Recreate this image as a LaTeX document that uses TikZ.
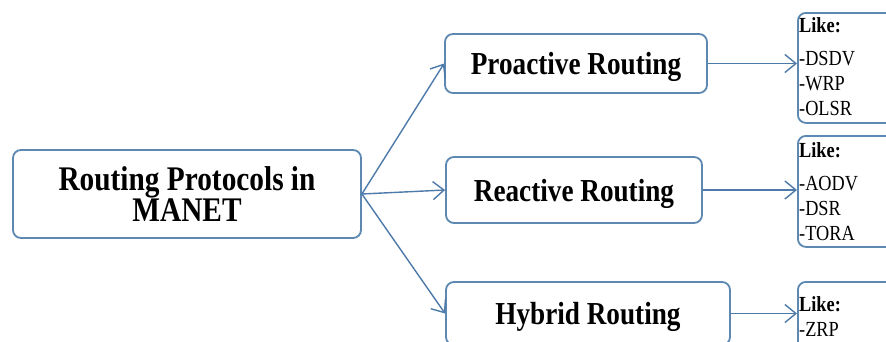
\documentclass[tikz,border=0pt]{standalone}
\usepackage{fontspec}
\setmainfont{Liberation Serif}[FakeStretch=0.85]
\usetikzlibrary{arrows.meta,calc}
\definecolor{boxline}{RGB}{92,136,178}
\definecolor{arrline}{RGB}{78,122,170}
\begin{document}
\begin{tikzpicture}[x=1pt,y=-1pt,
  box/.style={draw=boxline, line width=1.8pt, rounded corners=8pt, fill=white, inner sep=0pt, text depth=0pt},
  conn/.style={draw=arrline, line width=1.4pt, -{Straight Barb[length=11pt,width=18pt]}},
  subfont/.style={font=\fontsize{32}{34}\selectfont\bfseries},
  likefont/.style={font=\fontsize{21.5}{25}\selectfont, align=left, inner sep=0pt, anchor=north west}]
\useasboundingbox (0,0) rectangle (886,341);
\clip (0,0) rectangle (886,341);
\fill[white] (0,0) rectangle (886,341);
% main box
\node[box, minimum width=348pt, minimum height=88pt, align=center,
      font=\fontsize{34.5}{30}\selectfont\bfseries] (main) at (187,194) {Routing Protocols in\\MANET};
% category boxes
\node[box, subfont, minimum width=262pt, minimum height=59pt] (pro) at (576,63.5) {Proactive Routing};
\node[box, subfont, minimum width=256pt, minimum height=66pt] (rea) at (574,190) {Reactive Routing};
\node[box, subfont, minimum width=284pt, minimum height=63pt] (hyb) at (588,313.5) {Hybrid Routing};
% example boxes
\node[box, minimum width=103pt, minimum height=110pt, anchor=north west] (like1) at (797,12) {};
\node[box, minimum width=103pt, minimum height=111pt, anchor=north west] (like2) at (797,135) {};
\node[box, minimum width=103pt, minimum height=80pt, anchor=north west] (like3) at (797,281) {};
\node[likefont] (t1) at (799,17.5) {\textbf{Like:}\\[8pt]-DSDV\\-WRP\\-OLSR};
\node[likefont] (t2) at (799,142.5) {\textbf{Like:}\\[8pt]-AODV\\-DSR\\-TORA};
\node[likefont] (t3) at (799,296) {\textbf{Like:}\\-ZRP};
% connectors
\draw[conn] (main.east) -- (pro.west);
\draw[conn] (main.east) -- (rea.west);
\draw[conn] (main.east) -- (hyb.west);
\draw[conn] (pro.east) -- (pro.east -| like1.west);
\draw[conn] (rea.east) -- (rea.east -| like2.west);
\draw[conn] (hyb.east) -- (hyb.east -| like3.west);
\end{tikzpicture}
\end{document}
